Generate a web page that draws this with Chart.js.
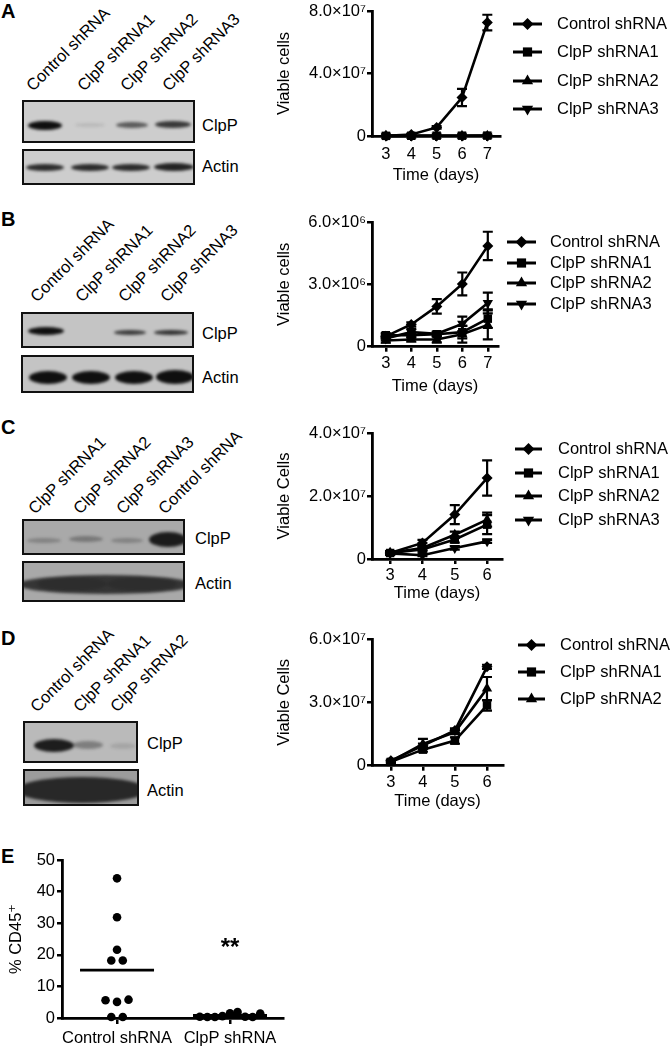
<!DOCTYPE html>
<html>
<head>
<meta charset="utf-8">
<script src="https://cdn.jsdelivr.net/npm/chart.js@4.4.1/dist/chart.umd.min.js"></script>
<style>
body { margin: 0; width: 672px; height: 1050px; position: relative; background: #fff; overflow: hidden;
       font-family: 'Liberation Sans', Arial, sans-serif; color: #000; }
canvas.cv { position: absolute; }
.letter { position: absolute; font-weight: bold; font-size: 20px; line-height: 20px; }
.lane { position: absolute; font-size: 16.5px; line-height: 17px; white-space: nowrap;
        transform-origin: 0 14px; transform: rotate(-45deg); }
.blot { position: absolute; border: 2px solid #111; box-sizing: border-box; overflow: hidden; }
.band { position: absolute; border-radius: 50%; filter: blur(1.6px); }
.blabel { position: absolute; font-size: 16.5px; line-height: 17px; }
</style>
</head>
<body>
<div class="letter" style="left:1px;top:1px">A</div>
<div class="letter" style="left:1px;top:209px">B</div>
<div class="letter" style="left:1px;top:417px">C</div>
<div class="letter" style="left:1px;top:628px">D</div>
<div class="letter" style="left:1px;top:846px">E</div>

<canvas id="chartA" class="cv"></canvas>
<canvas id="chartB" class="cv"></canvas>
<canvas id="chartC" class="cv"></canvas>
<canvas id="chartD" class="cv"></canvas>
<canvas id="chartE" class="cv"></canvas>

<script>
// ---------------- data ----------------
const seriesNames = ['Control shRNA', 'ClpP shRNA1', 'ClpP shRNA2', 'ClpP shRNA3'];

// A : days 3-7, viable cells
const daysA = [3, 4, 5, 6, 7];
const aControl = [0.2e6, 1.0e6, 5.5e6, 24.6e6, 72.6e6];
const aControlErr = [0.1e6, 0.4e6, 0.8e6, 5.5e6, 5.0e6];
const aShRNA1 = [0.1e6, 0.15e6, 0.2e6, 0.2e6, 0.25e6];
const aShRNA2 = [0.1e6, 0.12e6, 0.15e6, 0.2e6, 0.2e6];
const aShRNA3 = [0.1e6, 0.1e6, 0.12e6, 0.15e6, 0.2e6];
const aTicks = [0, 4e7, 8e7];
const aTickLabels = ['0', '4.0\u00d710\u2077', '8.0\u00d710\u2077'];

// B : days 3-7
const daysB = [3, 4, 5, 6, 7];
const bControl = [0.5e6, 1.07e6, 1.94e6, 3.02e6, 4.85e6];
const bControlErr = [0.1e6, 0.1e6, 0.35e6, 0.55e6, 0.68e6];
const bShRNA1 = [0.55e6, 0.55e6, 0.6e6, 0.7e6, 1.35e6];
const bShRNA1Err = [0.1e6, 0.1e6, 0.1e6, 0.3e6, 0.45e6];
const bShRNA2 = [0.3e6, 0.35e6, 0.35e6, 0.6e6, 1.05e6];
const bShRNA2Err = [0.1e6, 0.1e6, 0.15e6, 0.4e6, 0.7e6];
const bShRNA3 = [0.4e6, 0.7e6, 0.62e6, 1.1e6, 2.1e6];
const bShRNA3Err = [0.1e6, 0.15e6, 0.1e6, 0.35e6, 0.5e6];
const bTicks = [0, 3e6, 6e6];
const bTickLabels = ['0', '3.0\u00d710\u2076', '6.0\u00d710\u2076'];

// C : days 3-6
const daysC = [3, 4, 5, 6];
const cControl = [0.19e7, 0.51e7, 1.41e7, 2.57e7];
const cControlErr = [0.05e7, 0.1e7, 0.3e7, 0.56e7];
const cShRNA1 = [0.19e7, 0.3e7, 0.62e7, 1.09e7];
const cShRNA1Err = [0.05e7, 0.05e7, 0.1e7, 0.3e7];
const cShRNA2 = [0.2e7, 0.35e7, 0.77e7, 1.25e7];
const cShRNA2Err = [0.05e7, 0.05e7, 0.1e7, 0.22e7];
const cShRNA3 = [0.18e7, 0.12e7, 0.35e7, 0.56e7];
const cShRNA3Err = [0.03e7, 0.03e7, 0.05e7, 0.05e7];
const cTicks = [0, 2e7, 4e7];
const cTickLabels = ['0', '2.0\u00d710\u2077', '4.0\u00d710\u2077'];

// D : days 3-6
const daysD = [3, 4, 5, 6];
const dControl = [0.24e7, 0.95e7, 1.67e7, 4.68e7];
const dControlErr = [0.05e7, 0.1e7, 0.1e7, 0.1e7];
const dShRNA1 = [0.18e7, 0.76e7, 1.19e7, 2.86e7];
const dShRNA1Err = [0.05e7, 0.1e7, 0.15e7, 0.25e7];
const dShRNA2 = [0.2e7, 1.03e7, 1.59e7, 3.65e7];
const dShRNA2Err = [0.05e7, 0.24e7, 0.1e7, 0.55e7];
const dTicks = [0, 3e7, 6e7];
const dTickLabels = ['0', '3.0\u00d710\u2077', '6.0\u00d710\u2077'];

// E : % CD45+ per mouse
const groupNames = ['Control shRNA', 'ClpP shRNA'];
const eControl = [44.2, 31.9, 21.6, 18.2, 18.2, 5.6, 5.1, 5.8, 0.3, 0.3];
const eClpP = [0.4, 0.3, 0.3, 0.6, 1.5, 1.9, 0.4, 0.3, 1.4];
const eTicks = [0, 10, 20, 30, 40, 50];

const FONT_SIZE = 16.5;
Chart.defaults.font.family = "'Liberation Sans', 'DejaVu Sans', sans-serif";
Chart.defaults.font.size = FONT_SIZE;
Chart.defaults.color = '#000';

// ---------------- western blots (pictures, not data) ----------------
function blot(box, bg, bands) {
    const el = document.createElement('div');
    el.className = 'blot';
    el.style.cssText = `left:${box[0]}px;top:${box[1]}px;width:${box[2]}px;height:${box[3]}px;background:${bg}`;
    bands.forEach(b => {
        // b = [centre x (page), centre y (inside box), width, height, darkness]
        const d = document.createElement('div');
        d.className = 'band';
        d.style.cssText = `left:${b[0] - box[0] - b[2] / 2}px;top:${b[1] - b[3] / 2}px;width:${b[2]}px;height:${b[3]}px;background:rgba(15,15,15,${b[4]})`;
        el.appendChild(d);
    });
    document.body.appendChild(el);
}
function text(cls, str, x, y) {
    const el = document.createElement('div');
    el.className = cls;
    el.textContent = str;
    el.style.left = x + 'px';
    el.style.top = y + 'px';
    document.body.appendChild(el);
}
function laneLabels(names, xs, y) {
    names.forEach((n, i) => text('lane', n, xs[i], y - 14));
}

// A
laneLabels(['Control shRNA', 'ClpP shRNA1', 'ClpP shRNA2', 'ClpP shRNA3'], [33, 84, 127, 169], 92);
blot([22, 100, 173, 43], '#cdcdcd', [[43, 23, 34, 9, 1], [88, 23, 30, 4, 0.1], [130, 23, 32, 6, 0.6], [171, 22, 36, 7, 0.78]]);
blot([22, 149, 173, 36], '#cdcdcd', [[43, 16, 38, 7, 0.85], [88, 16, 38, 7, 0.85], [129, 16, 38, 7, 0.85], [172, 16, 40, 8, 0.9]]);
text('blabel', 'ClpP', 202, 117);
text('blabel', 'Actin', 202, 158);

// B
laneLabels(['Control shRNA', 'ClpP shRNA1', 'ClpP shRNA2', 'ClpP shRNA3'], [37, 82, 125, 167], 303);
blot([21, 312, 173, 36], '#c4c4c4', [[44, 17, 36, 8, 1], [128, 18, 32, 5, 0.75], [169, 18, 34, 5, 0.8]]);
blot([21, 355, 173, 38], '#c4c4c4', [[46, 20, 38, 13, 1], [89, 20, 38, 13, 1], [132, 20, 38, 13, 1], [173, 20, 38, 14, 1]]);
text('blabel', 'ClpP', 202, 325);
text('blabel', 'Actin', 202, 369);

// C
laneLabels(['ClpP shRNA1', 'ClpP shRNA2', 'ClpP shRNA3', 'Control shRNA'], [35, 80, 123, 165], 515);
blot([22, 519, 163, 36], '#a9a9a9', [[42, 19, 34, 5, 0.25], [84, 18, 34, 6, 0.32], [125, 19, 32, 5, 0.25], [166, 18, 38, 15, 0.92]]);
blot([22, 561, 163, 41], '#a9a9a9', [[103, 21, 175, 19, 0.75], [70, 21, 70, 14, 0.2], [140, 21, 70, 14, 0.2]]);
text('blabel', 'ClpP', 195, 530);
text('blabel', 'Actin', 195, 575);

// D
laneLabels(['Control shRNA', 'ClpP shRNA1', 'ClpP shRNA2'], [37, 80, 117], 713);
blot([23, 721, 115, 42], '#bababa', [[52, 22, 40, 13, 0.92], [86, 22, 30, 8, 0.35], [121, 23, 26, 6, 0.12]]);
blot([23, 769, 116, 37], '#9c9c9c', [[80, 19, 130, 26, 0.82]]);
text('blabel', 'ClpP', 147, 735);
text('blabel', 'Actin', 147, 782);

// ---------------- chart helpers ----------------
function marker(ctx, style, x, y, r) {
    ctx.beginPath();
    if (style === 'rectRot') {
        ctx.moveTo(x, y - r); ctx.lineTo(x + r, y); ctx.lineTo(x, y + r); ctx.lineTo(x - r, y);
    } else if (style === 'rect') {
        const s = r * Math.SQRT1_2;
        ctx.rect(x - s, y - s, 2 * s, 2 * s);
    } else if (style === 'triangle') {
        ctx.moveTo(x, y - r); ctx.lineTo(x + r * 0.866, y + r * 0.5); ctx.lineTo(x - r * 0.866, y + r * 0.5);
    } else {
        ctx.moveTo(x, y + r); ctx.lineTo(x + r * 0.866, y - r * 0.5); ctx.lineTo(x - r * 0.866, y - r * 0.5);
    }
    ctx.closePath();
    ctx.fill();
}

const errorBars = {
    id: 'errorBars',
    afterDatasetsDraw(chart) {
        const ctx = chart.ctx, xs = chart.scales.x, ys = chart.scales.y;
        ctx.save();
        ctx.strokeStyle = '#000';
        ctx.lineWidth = 2.2;
        chart.data.datasets.forEach(ds => {
            if (!ds.err) return;
            ds.data.forEach((p, i) => {
                const e = ds.err[i];
                const x = xs.getPixelForValue(p.x);
                const y1 = ys.getPixelForValue(p.y + e);
                const y2 = ys.getPixelForValue(Math.max(0, p.y - e));
                ctx.beginPath();
                ctx.moveTo(x, y1); ctx.lineTo(x, y2);
                ctx.moveTo(x - 5, y1); ctx.lineTo(x + 5, y1);
                ctx.moveTo(x - 5, y2); ctx.lineTo(x + 5, y2);
                ctx.stroke();
            });
        });
        ctx.restore();
    }
};

// legend: short line with the marker in its middle, then the name
const lineLegend = {
    id: 'lineLegend',
    afterDraw(chart) {
        const o = chart.options.plugins.lineLegend;
        const ctx = chart.ctx;
        ctx.save();
        ctx.fillStyle = '#000';
        ctx.strokeStyle = '#000';
        ctx.lineWidth = 3;
        ctx.font = FONT_SIZE + "px 'Liberation Sans', sans-serif";
        ctx.textBaseline = 'middle';
        chart.data.datasets.forEach((ds, i) => {
            const y = o.rows[i] - o.top;
            const x1 = o.x1 - o.left, x2 = o.x2 - o.left;
            ctx.beginPath();
            ctx.moveTo(x1, y); ctx.lineTo(x2, y);
            ctx.stroke();
            marker(ctx, ds.shape, (x1 + x2) / 2, y, ds.pointRadius + 0.5);
            ctx.fillText(ds.label, o.tx - o.left, y + 0.5);
        });
        ctx.restore();
    }
};

const SHAPES = ['rectRot', 'rect', 'triangle', 'invTriangle'];
const LH = FONT_SIZE * 1.2;

function growthChart(id, g, days, values, errs, ticks, tickLabels, yTitle) {
    const padL = g.yTitleX - LH / 2 - g.cl;
    const padT = g.t - g.ct;
    const padR = g.cl + g.cw - g.r;
    const padB = g.ct + g.ch - (g.xTitleY + LH / 2);
    const xH = g.xTitleY + LH / 2 - g.b;
    const yW = g.l - g.cl - padL;

    const cv = document.getElementById(id);
    cv.width = g.cw; cv.height = g.ch;
    cv.style.left = g.cl + 'px'; cv.style.top = g.ct + 'px';

    const datasets = values.map((vals, i) => {
        const shape = SHAPES[i];
        return {
            label: seriesNames[i],
            data: days.map((d, k) => ({ x: d, y: vals[k] })),
            err: errs[i],
            shape: shape,
            borderColor: '#000',
            backgroundColor: '#000',
            borderWidth: 2.6,
            pointStyle: shape === 'invTriangle' ? 'triangle' : shape,
            pointRotation: shape === 'invTriangle' ? 180 : 0,
            pointRadius: shape === 'rect' ? 6 : (shape === 'rectRot' ? 5.5 : 6),
            pointBorderWidth: 0,
            tension: 0,
            clip: false,
        };
    });

    const axisGrid = { display: true, drawOnChartArea: false, drawTicks: true, tickLength: 5, tickColor: '#000', lineWidth: 2.5, tickWidth: 2.5 };

    return new Chart(cv, {
        type: 'line',
        data: { datasets },
        options: {
            responsive: false,
            animation: false,
            events: [],
            layout: { padding: { left: padL, top: padT, right: padR, bottom: padB } },
            plugins: {
                legend: { display: false },
                tooltip: { enabled: false },
                lineLegend: Object.assign({ left: g.cl, top: g.ct }, g.legend),
            },
            scales: {
                x: {
                    type: 'linear',
                    min: g.xMin, max: g.xMax,
                    border: { color: '#000', width: 2.8 },
                    grid: axisGrid,
                    afterBuildTicks: s => { s.ticks = days.map(v => ({ value: v })); },
                    afterFit: s => { s.height = xH; },
                    ticks: { padding: g.xPad, maxRotation: 0, autoSkip: false },
                    title: { display: true, text: 'Time (days)', padding: 0 },
                },
                y: {
                    min: 0, max: ticks[ticks.length - 1],
                    border: { color: '#000', width: 2.8 },
                    grid: axisGrid,
                    afterBuildTicks: s => { s.ticks = ticks.map(v => ({ value: v })); },
                    afterFit: s => { s.width = yW; },
                    ticks: { padding: 1, callback: (v, i) => tickLabels[i] },
                    title: { display: true, text: yTitle, padding: 0 },
                },
            },
        },
        plugins: [errorBars, lineLegend],
    });
}

growthChart('chartA',
    { cl: 260, ct: 0, cw: 412, ch: 200, l: 372, r: 500, t: 11, b: 136, xMin: 2.45, xMax: 7.5,
      yTitleX: 284, xTitleY: 175, xPad: 4,
      legend: { x1: 513, x2: 542, tx: 557, rows: [24, 52, 81, 109] } },
    daysA, [aControl, aShRNA1, aShRNA2, aShRNA3],
    [aControlErr, null, null, null].map(e => e || daysA.map(() => 0)),
    aTicks, aTickLabels, 'Viable cells');

growthChart('chartB',
    { cl: 260, ct: 200, cw: 412, ch: 210, l: 372, r: 498, t: 222, b: 346.7, xMin: 2.46, xMax: 7.4,
      yTitleX: 284, xTitleY: 386, xPad: 2,
      legend: { x1: 507, x2: 536, tx: 550, rows: [242, 263, 283, 304] } },
    daysB, [bControl, bShRNA1, bShRNA2, bShRNA3],
    [bControlErr, bShRNA1Err, bShRNA2Err, bShRNA3Err],
    bTicks, bTickLabels, 'Viable cells');

growthChart('chartC',
    { cl: 260, ct: 410, cw: 412, ch: 210, l: 372, r: 502, t: 433, b: 559, xMin: 2.44, xMax: 6.46,
      yTitleX: 284, xTitleY: 593, xPad: 2,
      legend: { x1: 515, x2: 542, tx: 558, rows: [449, 473, 496, 520] } },
    daysC, [cControl, cShRNA1, cShRNA2, cShRNA3],
    [cControlErr, cShRNA1Err, cShRNA2Err, cShRNA3Err],
    cTicks, cTickLabels, 'Viable Cells');

growthChart('chartD',
    { cl: 260, ct: 620, cw: 412, ch: 205, l: 372, r: 503, t: 639, b: 765.7, xMin: 2.41, xMax: 6.5,
      yTitleX: 284, xTitleY: 801.5, xPad: 2,
      legend: { x1: 518, x2: 545, tx: 560, rows: [645, 672, 699] } },
    daysD, [dControl, dShRNA1, dShRNA2],
    [dControlErr, dShRNA1Err, dShRNA2Err],
    dTicks, dTickLabels, 'Viable Cells');

// ---------------- E : scatter with means ----------------
(function () {
    const g = { cl: 0, ct: 840, cw: 330, ch: 210, l: 62, r: 283, t: 860, b: 1018, xMin: 0.513, xMax: 2.469, yTitleX: 16 };
    const pxPerUnit = (g.r - g.l) / (g.xMax - g.xMin);
    const cv = document.getElementById('chartE');
    cv.width = g.cw; cv.height = g.ch;
    cv.style.left = g.cl + 'px'; cv.style.top = g.ct + 'px';

    // spread points that share a value band sideways, like a column scatter
    function spread(vals, centre) {
        const bins = {};
        vals.forEach((v, i) => { const k = Math.floor(v / 4); (bins[k] = bins[k] || []).push(i); });
        const pts = [];
        Object.values(bins).forEach(idx => {
            const step = Math.min(11.5, 68 / idx.length);
            idx.forEach((i, j) => {
                const off = (j - (idx.length - 1) / 2) * step;
                pts.push({ x: centre + off / pxPerUnit, y: vals[i] });
            });
        });
        return pts;
    }
    const mean = a => a.reduce((s, v) => s + v, 0) / a.length;
    const half = 37 / pxPerUnit;
    const dot = { type: 'scatter', backgroundColor: '#000', borderWidth: 0, pointRadius: 4.3, clip: false };
    const bar = { type: 'line', borderColor: '#000', borderWidth: 2.8, pointRadius: 0, clip: false };

    const starLabel = {
        id: 'starLabel',
        afterDraw(chart) {
            const ctx = chart.ctx;
            ctx.save();
            ctx.fillStyle = '#000';
            ctx.font = "bold 24px 'Liberation Sans', sans-serif";
            ctx.textAlign = 'center';
            ctx.textBaseline = 'alphabetic';
            ctx.fillText('**', chart.scales.x.getPixelForValue(2), chart.scales.y.getPixelForValue(24) + 12.5);
            ctx.restore();
        }
    };

    const padL = g.yTitleX - LH / 2 - g.cl;
    new Chart(cv, {
        data: {
            datasets: [
                Object.assign({ data: spread(eControl, 1) }, dot),
                Object.assign({ data: spread(eClpP, 2) }, dot),
                Object.assign({ data: [{ x: 1 - half, y: mean(eControl) }, { x: 1 + half, y: mean(eControl) }] }, bar),
                Object.assign({ data: [{ x: 2 - half, y: mean(eClpP) }, { x: 2 + half, y: mean(eClpP) }] }, bar),
            ]
        },
        options: {
            responsive: false,
            animation: false,
            events: [],
            layout: { padding: { left: padL, top: g.t - g.ct, right: g.cl + g.cw - g.r, bottom: 0 } },
            plugins: { legend: { display: false }, tooltip: { enabled: false } },
            scales: {
                x: {
                    type: 'linear', min: g.xMin, max: g.xMax,
                    border: { color: '#000', width: 2.8 },
                    grid: { display: true, drawOnChartArea: false, tickLength: 6, tickColor: '#000', lineWidth: 2.5, tickWidth: 2.5 },
                    afterBuildTicks: s => { s.ticks = [{ value: 1 }, { value: 2 }]; },
                    afterFit: s => { s.height = g.ct + g.ch - g.b; },
                    ticks: { padding: 5, maxRotation: 0, autoSkip: false, callback: (v, i) => groupNames[i] },
                },
                y: {
                    min: 0, max: 50,
                    border: { color: '#000', width: 2.8 },
                    grid: { display: true, drawOnChartArea: false, tickLength: 5, tickColor: '#000', lineWidth: 2.5, tickWidth: 2.5 },
                    afterBuildTicks: s => { s.ticks = eTicks.map(v => ({ value: v })); },
                    afterFit: s => { s.width = g.l - g.cl - padL; },
                    ticks: { padding: 2 },
                    title: { display: true, text: '% CD45\u207a', padding: 0 },
                },
            },
        },
        plugins: [starLabel],
    });
})();
</script>
</body>
</html>
